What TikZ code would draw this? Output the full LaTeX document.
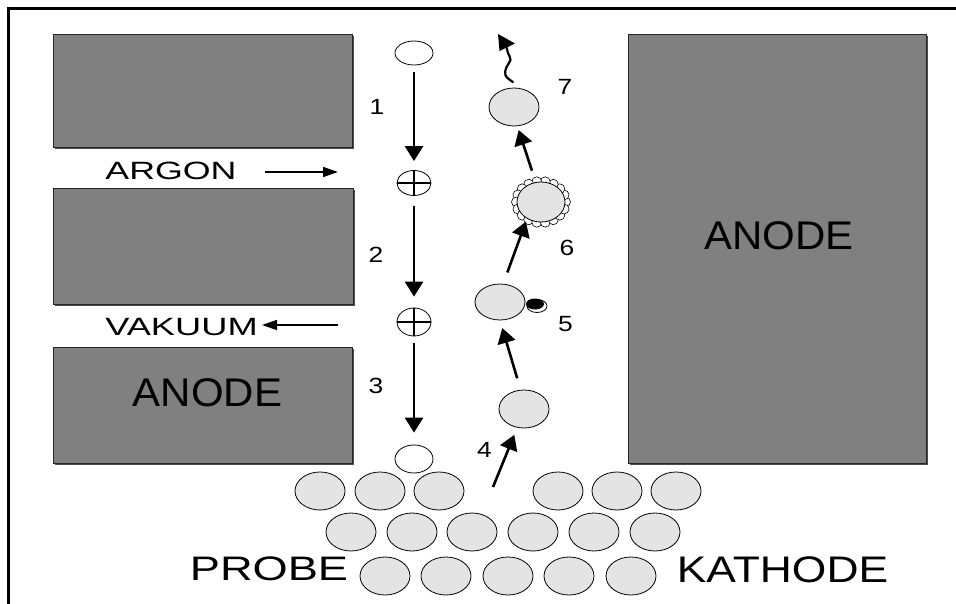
\documentclass[tikz,border=0pt]{standalone}
\usepackage{fontspec}
\usepackage{graphicx}
\setmainfont{Liberation Sans}
\usetikzlibrary{shapes.geometric,arrows.meta,calc}
\definecolor{anodegray}{HTML}{808080}
\definecolor{atomgray}{HTML}{E4E4E4}
\newcommand{\sx}[2]{\scalebox{#1}[1]{#2}}
\begin{document}
\begin{tikzpicture}[x=1pt,y=-1pt,
  anodebox/.style={fill=anodegray, draw=black!85, line width=0.8pt},
  boxshadow/.style={fill=black!70},
  atom/.style={ellipse, draw=black, line width=0.8pt, fill=atomgray, minimum width=50pt, minimum height=38pt, inner sep=0pt},
  gasatom/.style={ellipse, draw=black, line width=0.8pt, fill=white, inner sep=0pt},
  ionatom/.style={gasatom, minimum width=34pt, minimum height=25pt},
  bigarrow/.style={line width=2.6pt, -{Triangle[width=18pt,length=15pt]}},
  thinarrow/.style={line width=1.4pt, -{Triangle[width=10pt,length=15pt]}},
  lbl/.style={inner sep=0pt, anchor=base},
  numfont/.style={font=\fontsize{22}{22}\selectfont},
]
\useasboundingbox (0,0) rectangle (956,604);
% frame
\draw[line width=3pt, line join=miter] (8.5,604) -- (8.5,8.5) -- (956,8.5);
% anode blocks
\foreach \xa/\ya/\xb/\yb in {53/34/352/147, 53/188/353/304, 53/347/352/463, 628/34/926/463}{
  \fill[boxshadow] (\xa+2,\ya+2) rectangle (\xb+2,\yb+2);
  \draw[anodebox] (\xa,\ya) rectangle (\xb,\yb);
}
\node[lbl, font=\fontsize{40}{40}\selectfont] (anodeL) at (207.5,406) {\sx{1.05}{ANODE}};
\node[lbl, font=\fontsize{40}{40}\selectfont] (anodeR) at (779,250) {\sx{1.05}{ANODE}};
% gas labels
\node[lbl, font=\fontsize{25}{25}\selectfont] (argon) at (171,180) {\sx{1.43}{ARGON}};
\node[lbl, font=\fontsize{25}{25}\selectfont] (vakuum) at (181.5,335) {\sx{1.45}{VAKUUM}};
\coordinate (arS) at (265,172);
\coordinate (arE) at (338,172);
\coordinate (vaS) at (338,325);
\coordinate (vaE) at (262,325);
\draw[thinarrow] (arS) -- (arE);
\draw[thinarrow] (vaS) -- (vaE);
% left column: argon atom -> ions -> atom
\node[gasatom, minimum width=38pt, minimum height=24pt] (e1) at (414,53) {};
\node[ionatom] (p1) at (414,183) {};
\node[ionatom, minimum height=28pt] (p2) at (414,322) {};
\node[gasatom, minimum width=38pt, minimum height=28pt] (e2) at (414,459) {};
\draw[line width=2.2pt] (p1.west) -- (p1.east) (p1.north) -- (p1.south);
\draw[line width=2.2pt] (p2.west) -- (p2.east) (p2.north) -- (p2.south);
\draw[bigarrow, shorten <=7pt, shorten >=9pt] (e1) -- (p1);
\draw[bigarrow, shorten <=10pt, shorten >=11pt] (p1) -- (p2);
\draw[bigarrow, shorten <=7pt, shorten >=12pt] (p2) -- (e2);
% numbers
\node[lbl, numfont] (l1) at (377,115) {\sx{1.2}{1}};
\node[lbl, numfont] (l2) at (376,262) {\sx{1.2}{2}};
\node[lbl, numfont] (l3) at (376,393) {\sx{1.2}{3}};
\node[lbl, numfont] (l4) at (484.5,457) {\sx{1.2}{4}};
\node[lbl, numfont] (l5) at (565.5,331) {\sx{1.2}{5}};
\node[lbl, numfont] (l6) at (567,256) {\sx{1.2}{6}};
\node[lbl, numfont] (l7) at (565,95) {\sx{1.2}{7}};
% right column: sputtered atom
\node[atom] (n4) at (524,409) {};
\node[atom, minimum height=36pt] (n5) at (500,302) {};
\draw[line width=0.8pt, fill=white] (537,306) ellipse (10pt and 6.5pt);
\fill (535,304) ellipse (9pt and 5.5pt);
\coordinate (fc) at (541,202);
\foreach \a in {0,20,...,340}
  \draw[fill=white, line width=0.6pt] ($(fc)+(\a:24.5pt and 20.5pt)$) circle (5pt);
\node[atom, minimum width=48pt, minimum height=40pt] (n6) at (fc) {};
\node[atom] (n7) at (514,107) {};
\coordinate (s4) at (493,487);
\draw[bigarrow] (s4) -- ($(s4)!0.88!(n4.250)$);
\draw[bigarrow, shorten <=12pt, shorten >=8pt] (n4.100) -- (n5.270);
\draw[bigarrow, shorten <=12pt, shorten >=3pt] (n5.80) -- (n6.230);
\draw[bigarrow, shorten <=12pt, shorten >=4pt] (n6.105) -- (n7.280);
% wavy emission
\draw[line width=2.2pt, line cap=round] plot[smooth, tension=0.7] coordinates {(513,82) (505.5,75.5) (506.5,67) (510.5,60) (508,53) (506.5,47)};
\fill (498,34) -- (515,43.5) -- (499.5,51) -- cycle;
% target atoms
\foreach \x [count=\i] in {320,380,439,558,617,676}
  \node[atom] (ra\i) at (\x,491) {};
\foreach \x [count=\i] in {351,412,472,533,594,655}
  \node[atom] (rb\i) at (\x,532) {};
\foreach \x [count=\i] in {385,446,508,569,631}
  \node[atom] (rc\i) at (\x,576) {};
\node[lbl, font=\fontsize{34}{34}\selectfont] (probe) at (269,580) {\sx{1.33}{PROBE}};
\node[lbl, font=\fontsize{37}{37}\selectfont] (kathode) at (782.5,582) {\sx{1.2}{KATHODE}};
\end{tikzpicture}
\end{document}
